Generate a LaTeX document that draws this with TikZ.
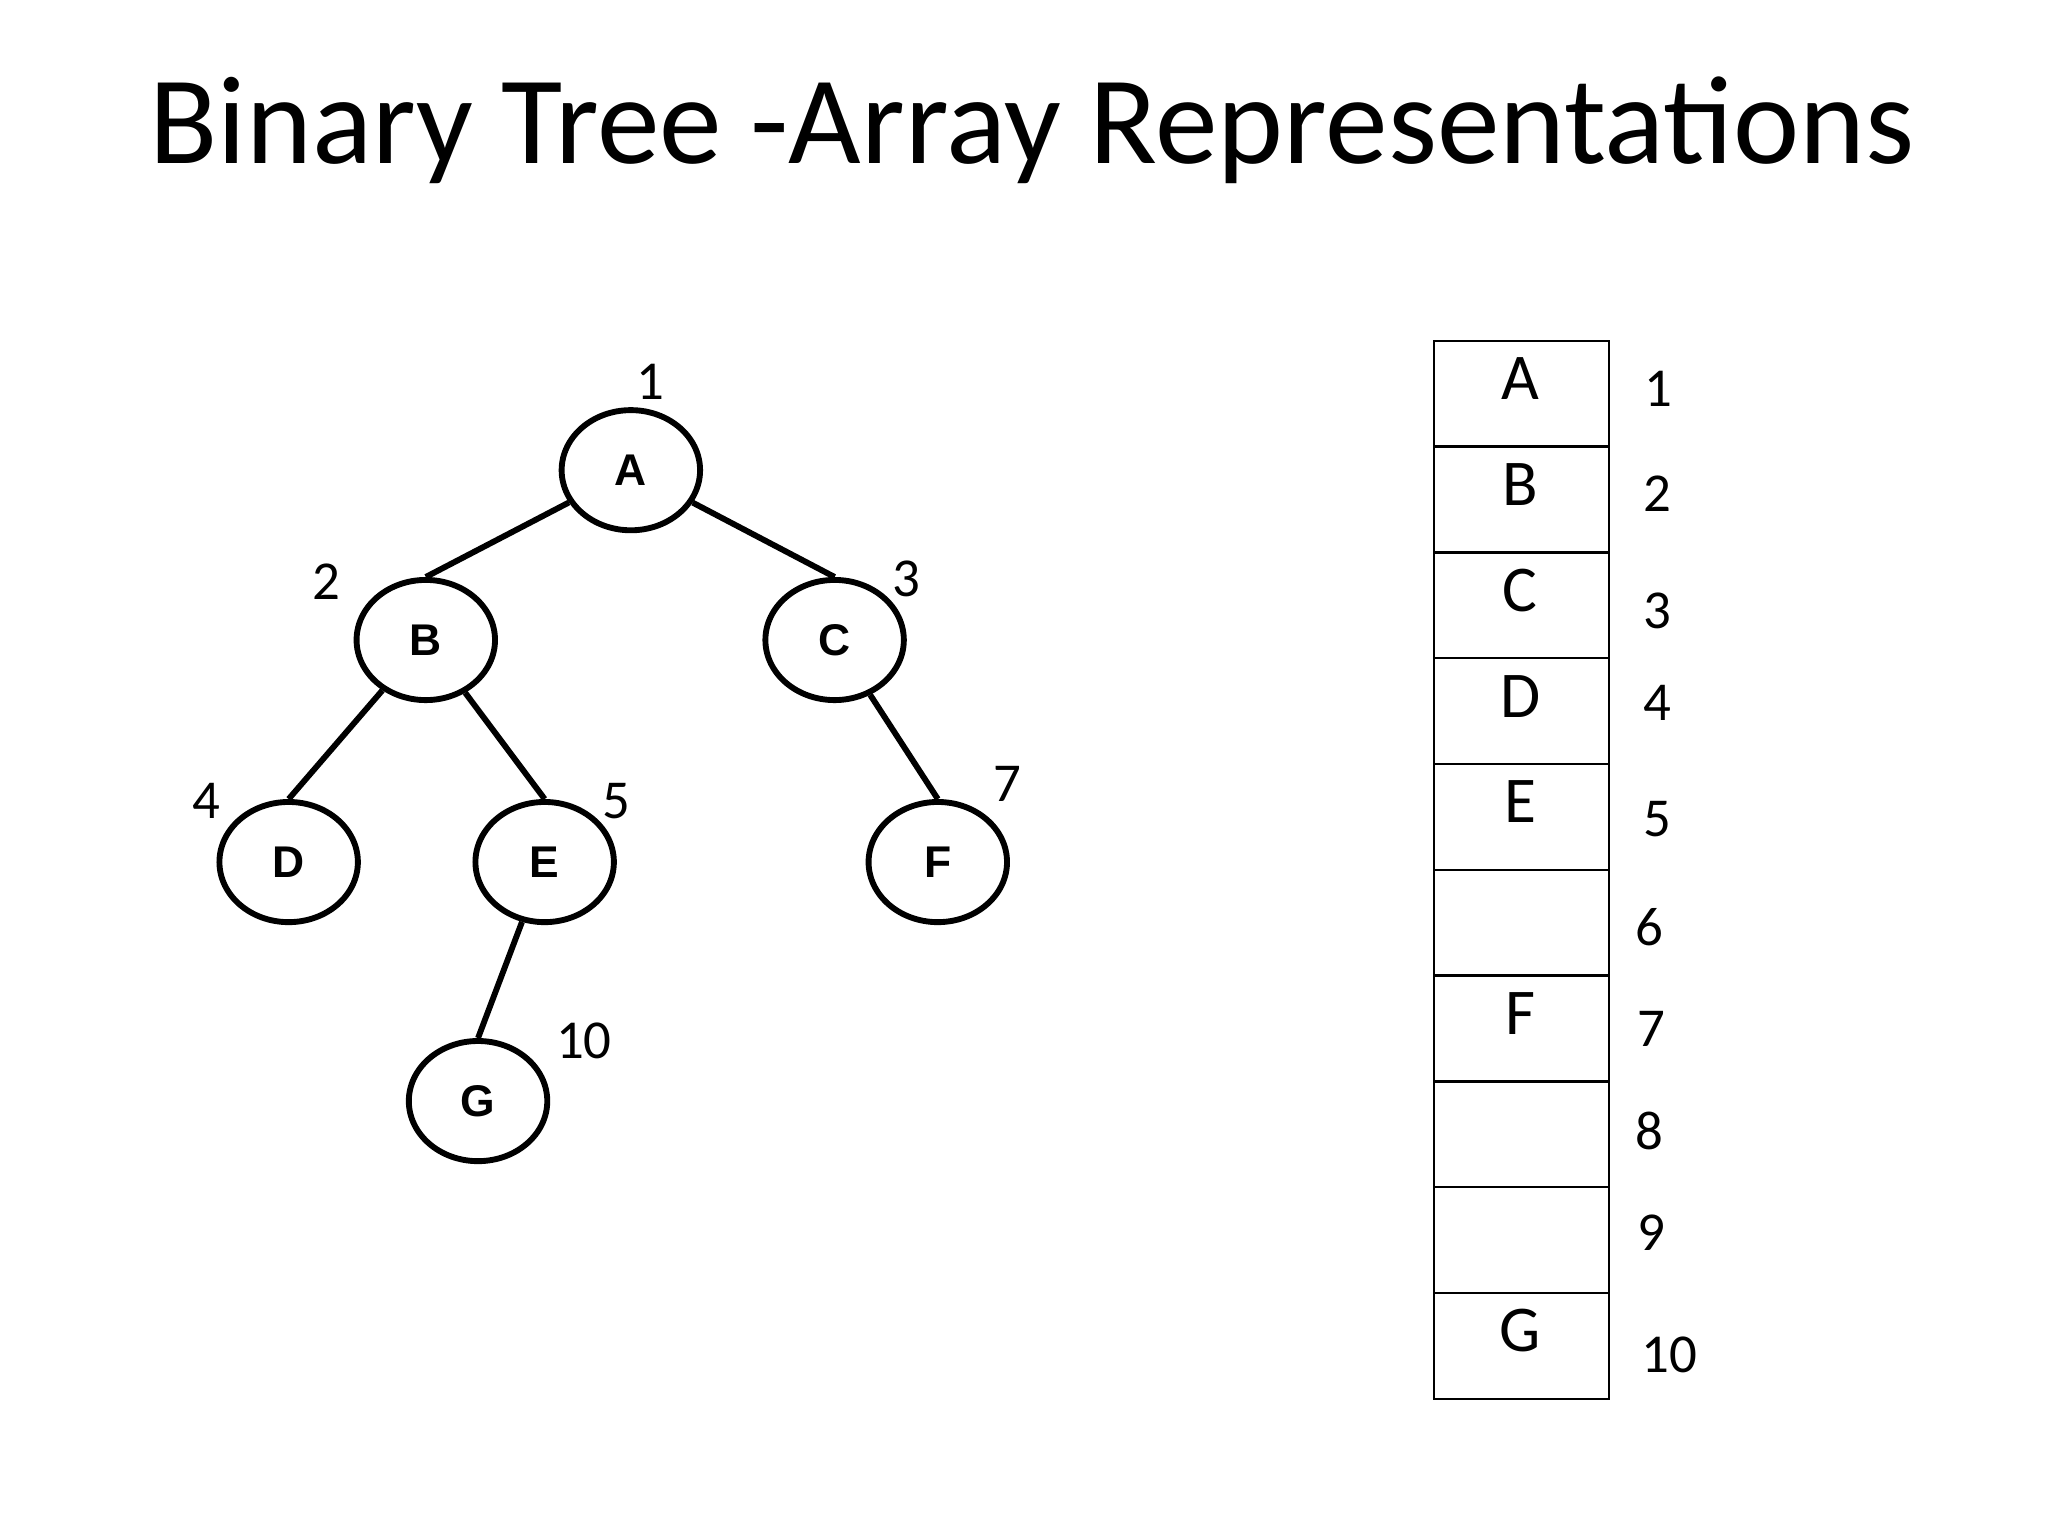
\documentclass[tikz,border=0pt]{standalone}
\usepackage{fontspec}
\usetikzlibrary{shapes.geometric}
\setmainfont{Carlito}
\newfontfamily\arialf{Liberation Sans}
\begin{document}
\begin{tikzpicture}[x=1pt,y=-1pt,
  tn/.style={draw,line width=4.5pt,ellipse,minimum width=106pt,minimum height=92pt,inner sep=0pt,font=\arialf\bfseries\fontsize{34}{34}\selectfont},
  ed/.style={line width=4.5pt},
  num/.style={font=\fontsize{42}{42}\selectfont},
  cell/.style={draw,line width=1.8pt,minimum width=134pt,minimum height=81pt,inner sep=0pt,anchor=north west},
  clab/.style={font=\fontsize{50}{50}\selectfont}]
\useasboundingbox (0,0) rectangle (1568,1176);
\node[font=\fontsize{96}{96}\selectfont] (title) at (790,100) {Binary Tree -Array Representations};
\node[tn] (A) at (483,360) {A};
\node[tn] (B) at (326,490) {B};
\node[tn] (C) at (639,490) {C};
\node[tn] (D) at (221,660) {D};
\node[tn] (E) at (417,660) {E};
\node[tn] (F) at (718,660) {F};
\node[tn] (G) at (366,843) {G};
\draw[ed] (A) -- (B.north); \draw[ed] (A) -- (C.north);
\draw[ed] (B) -- (D.north); \draw[ed] (B) -- (E.north);
\draw[ed] (C) -- (F.north); \draw[ed] (E) -- (G.north);
\node[num] (n1) at (498,292) {1};
\node[num] (n2) at (250,445) {2};
\node[num] (n3) at (694,443) {3};
\node[num] (n4) at (158,613) {4};
\node[num] (n5) at (472,613) {5};
\node[num] (n7) at (771,600) {7};
\node[num] (n10) at (447,797) {10};
\foreach \i/\l in {0/A,1/B,2/C,3/D,4/E,5/{},6/F,7/{},8/{},9/G}{
  \node[cell] (c\i) at (1097,{260+81*\i}) {};
  \node[clab] (l\i) at (1164,{290+81*\i}) {\l};
}
\foreach \y/\t/\x in {298/1/1270,378/2/1269,468/3/1269,538/4/1269,627/5/1269,710/6/1263,788/7/1264,866/8/1263,944/9/1264,1037/10/1278}
  \node[num] (r\t) at (\x,\y) {\t};
\end{tikzpicture}
\end{document}
